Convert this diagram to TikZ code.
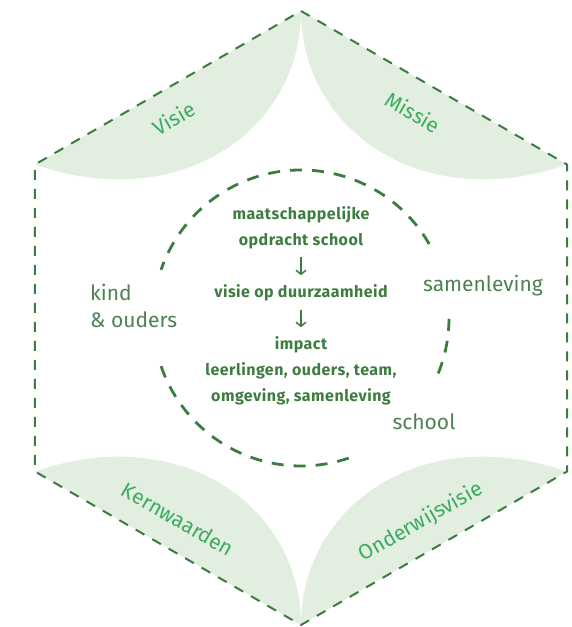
\documentclass[tikz,border=0pt]{standalone}
\usepackage{fontspec}
\setmainfont{Fira Sans}
\newfontfamily\corefont[LetterSpace=3]{Fira Sans}
\usetikzlibrary{arrows.meta}

\definecolor{hexgreen}{HTML}{3D7B40}
\definecolor{leafgreen}{HTML}{E2EFE0}
\definecolor{labelgreen}{HTML}{3BAB5E}
\definecolor{textgreen}{HTML}{3E7D40}
\definecolor{outergreen}{HTML}{4B8250}

\begin{document}
\begin{tikzpicture}[x=1pt, y=1pt,
    border/.style={draw=hexgreen, line width=2pt, dash pattern=on 10pt off 9pt},
    ring/.style={draw=hexgreen, line width=2.8pt, dash pattern=on 12pt off 10pt},
    leaf/.style={fill=leafgreen, draw=none},
    leaflabel/.style={text=labelgreen, font=\fontsize{21}{21}\selectfont},
    core/.style={text=textgreen, font=\corefont\bfseries\fontsize{16}{18}\selectfont},
    outer/.style={text=outergreen, font=\fontsize{21}{27}\selectfont, inner sep=0pt},
    flow/.style={draw=textgreen, line width=1.5pt, -{Straight Barb[length=4pt, width=10pt]}}]
             \useasboundingbox (-301,-309) rectangle (271,318);

             \coordinate (top) at (0,307);
             \coordinate (ur) at (266,153.5);
             \coordinate (lr) at (266,-153.5);
             \coordinate (bot) at (0,-307);
             \coordinate (ll) at (-266,-153.5);
             \coordinate (ul) at (-266,153.5);

             \fill[leaf] (top) .. controls (0,188) and (-121,103) .. (ul) -- cycle;
             \fill[leaf] (top) .. controls (0,188) and (121,103) .. (ur) -- cycle;
             \fill[leaf] (bot) .. controls (0,-188) and (-121,-103) .. (ll) -- cycle;
             \fill[leaf] (bot) .. controls (0,-188) and (121,-103) .. (lr) -- cycle;

             \draw[border] (top) -- (ur) -- (lr) -- (bot) -- (ll) -- (ul) -- cycle;

             \draw[ring] (30:148) arc[start angle=30, end angle=161, radius=148];
             \draw[ring] (199:148) arc[start angle=199, end angle=291, radius=148];
             \draw[ring] (-22:148) arc[start angle=-22, end angle=3, radius=148];

             \node[leaflabel, rotate=30] (visie) at (-127,200) {Visie};
             \node[leaflabel, rotate=-30] (missie) at (112,206) {Missie};
             \node[leaflabel, rotate=-30] (kern) at (-123,-201) {Kernwaarden};
             \node[leaflabel, rotate=30] (onderwijs) at (120,-204) {Onderwijsvisie};

             \node[core] (maat) at (0,103) {maatschappelijke};
             \node[core] (opdracht) at (0,77) {opdracht school};
             \node[core] (duurzaam) at (0,25) {visie op duurzaamheid};
             \node[core] (impact) at (0,-27) {impact};
             \node[core] (leerlingen) at (0,-53) {leerlingen, ouders, team,};
             \node[core] (omgeving) at (0,-79) {omgeving, samenleving};

             \draw[flow, shorten <=5pt, shorten >=6pt] (opdracht) -- (duurzaam);
             \draw[flow, shorten <=5pt, shorten >=6pt] (duurzaam) -- (impact);

             \node[outer, anchor=west, align=left] (kind) at (-211,12) {kind\\\& ouders};
             \node[outer] (samen) at (182,32) {samenleving};
             \node[outer] (school) at (123,-104) {school};
\end{tikzpicture}
\end{document}
